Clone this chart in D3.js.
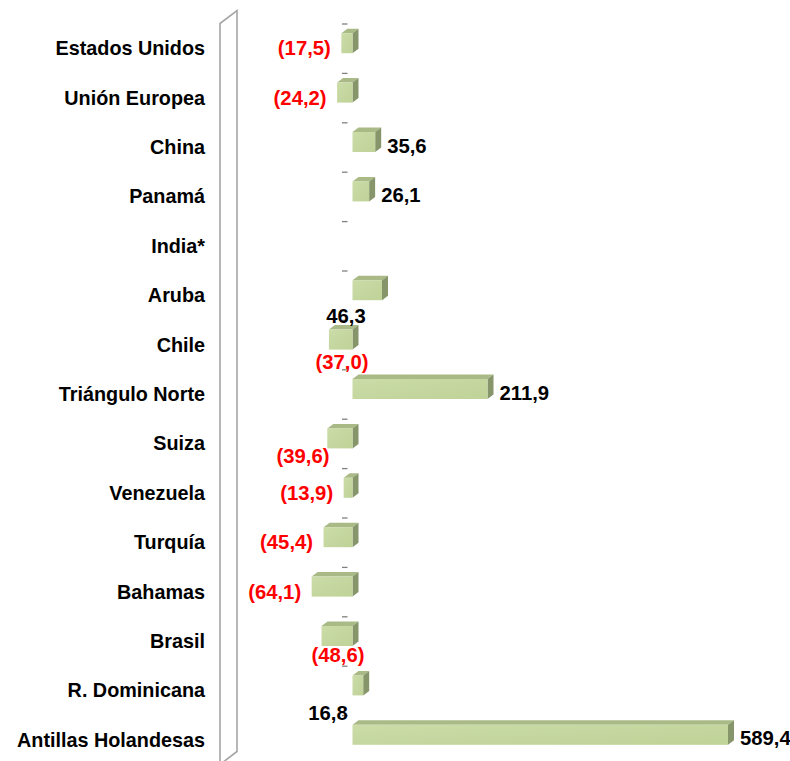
<!DOCTYPE html>
<html>
<head>
<meta charset="utf-8">
<script src="https://d3js.org/d3.v7.min.js"></script>
<style>
    body { margin: 0; background: #fff; }
    .cat text { font: bold 19.8px "Liberation Sans", Arial, sans-serif; fill: #000; }
    .val { font: bold 20.3px "Liberation Sans", Arial, sans-serif; }
    .wall { fill: none; stroke: #a6a6a6; stroke-width: 1.6px; }
    .tick-dash { stroke: #808080; stroke-width: 1.3px; }
</style>
</head>
<body>
<svg class="target" width="790" height="761"></svg>
<script>

    // categories top to bottom, values (null = no value shown)
    let categories = ["Estados Unidos", "Unión Europea", "China", "Panamá", "India*", "Aruba", "Chile",
        "Triángulo Norte", "Suiza", "Venezuela", "Turquía", "Bahamas", "Brasil", "R. Dominicana",
        "Antillas Holandesas"];
    let values = [-17.5, -24.2, 35.6, 26.1, null, 46.3, -37.0, 211.9, -39.6, -13.9, -45.4, -64.1, -48.6, 16.8, 589.4];

    // labels that Excel moved below their bar: [dx from zero line, dy from band centre]
    let labelNudge = {
        "Aruba": [-6.5, 21],
        "Chile": [-10.5, 17.5],
        "Suiza": [-49.5, 12.6],
        "Brasil": [-14.5, 14],
        "R. Dominicana": [-24.5, 22]
    };

    let svg = d3.select(".target"),
        width = +svg.attr("width"),
        height = +svg.attr("height");

    let depthX = 6, depthY = -4.5, barH = 20;

    let x = d3.scaleLinear().domain([0, 589.4]).range([352.5, 728]);
    let y = d3.scaleBand().domain(categories).range([23.5, 23.5 + 49.4 * categories.length]).padding(0);

    let defs = svg.append("defs");
    let grad = defs.append("linearGradient").attr("id", "front")
        .attr("x1", "0").attr("y1", "0").attr("x2", "1").attr("y2", "1");
    grad.append("stop").attr("offset", "0%").attr("stop-color", "#cbdca8");
    grad.append("stop").attr("offset", "100%").attr("stop-color", "#bfd297");

    // side wall outline
    let wallTop = y.range()[0], wallBottom = y.range()[1];
    svg.append("path").attr("class", "wall")
        .attr("d", d3.line()([[220, wallBottom], [220, wallTop], [237, wallTop - 13],
            [237, wallBottom - 13], [220, wallBottom]]));

    // category tick dashes
    svg.append("g").selectAll("line")
        .data(categories)
        .enter().append("line")
        .attr("class", "tick-dash")
        .attr("x1", x(0) - 10.5).attr("x2", x(0) - 5)
        .attr("y1", d => y(d) + 0.5).attr("y2", d => y(d) + 0.5);

    // category labels
    svg.append("g").attr("class", "cat").selectAll("text")
        .data(categories)
        .enter().append("text")
        .attr("x", 205)
        .attr("y", d => y(d) + y.bandwidth() / 2)
        .attr("dy", "0.35em")
        .attr("text-anchor", "end")
        .text(d => d);

    let rows = categories.map((c, i) => ({cat: c, v: values[i]})).filter(d => d.v !== null);

    let bar = svg.append("g").selectAll("g")
        .data(rows)
        .enter().append("g");

    function x0(d) { return Math.min(x(0), x(d.v)); }
    function x1(d) { return Math.max(x(0), x(d.v)); }
    function yt(d) { return y(d.cat) + y.bandwidth() / 2 - 15; }

    // top face
    bar.append("path")
        .attr("fill", "#a9ba86")
        .attr("d", d => d3.line()([[x0(d), yt(d)], [x0(d) + depthX, yt(d) + depthY],
            [x1(d) + depthX, yt(d) + depthY], [x1(d), yt(d)]]) + "Z");
    // side face
    bar.append("path")
        .attr("fill", "#86966a")
        .attr("d", d => d3.line()([[x1(d), yt(d)], [x1(d) + depthX, yt(d) + depthY],
            [x1(d) + depthX, yt(d) + depthY + barH], [x1(d), yt(d) + barH]]) + "Z");
    // front face
    bar.append("rect")
        .attr("fill", "url(#front)")
        .attr("x", x0)
        .attr("y", yt)
        .attr("width", d => x1(d) - x0(d))
        .attr("height", barH);

    let fmt = v => d3.format(".1f")(Math.abs(v)).replace(".", ",");

    svg.append("g").selectAll("text")
        .data(rows)
        .enter().append("text")
        .attr("class", "val")
        .attr("fill", d => d.v < 0 ? "#ff0000" : "#000")
        .attr("text-anchor", d => labelNudge[d.cat] ? "middle" : (d.v < 0 ? "end" : "start"))
        .attr("x", d => {
            if (labelNudge[d.cat]) return x(0) + labelNudge[d.cat][0];
            return d.v < 0 ? x0(d) - 10.5 : x1(d) + 12;
        })
        .attr("y", d => {
            let c = y(d.cat) + y.bandwidth() / 2;
            if (labelNudge[d.cat]) return c + labelNudge[d.cat][1];
            return d.v < 0 ? c : c - 1.5;
        })
        .attr("dy", "0.35em")
        .text(d => d.v < 0 ? "(" + fmt(d.v) + ")" : fmt(d.v));

</script>
</body>
</html>
